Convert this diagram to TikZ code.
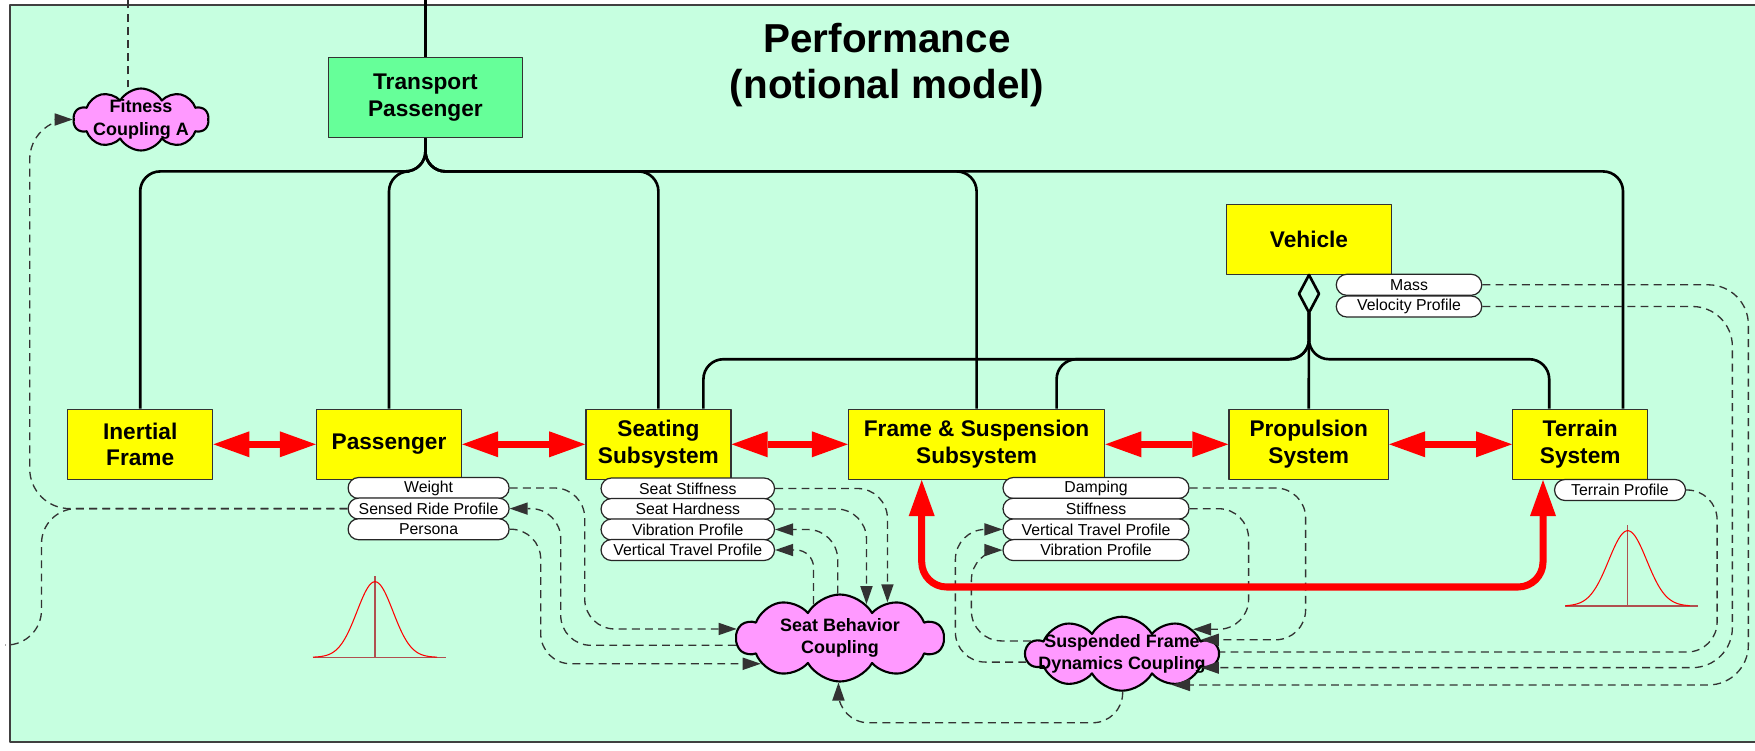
\documentclass[tikz,border=0pt]{standalone}
\usepackage{fontspec}
\setmainfont{Liberation Sans}
\usetikzlibrary{arrows.meta,shapes.misc,shapes.symbols,calc}
\definecolor{mint}{RGB}{198,255,224}
\definecolor{boxyellow}{RGB}{255,255,0}
\definecolor{tpgreen}{RGB}{102,255,153}
\definecolor{cloudpink}{RGB}{255,153,255}
\definecolor{dashgray}{RGB}{51,51,51}
\definecolor{bellbase}{RGB}{176,80,80}

\begin{document}
\begin{tikzpicture}[x=0.2mm,y=-0.2mm,line join=round,
  block/.style={draw=black!80,line width=0.8pt,fill=boxyellow,align=center,
    minimum height=14mm,inner sep=0pt,font=\fontsize{12.9}{15.1}\selectfont\bfseries},
  pill/.style={rounded rectangle,draw=black!85,line width=0.7pt,fill=white,
    minimum height=4.2mm,inner sep=0pt,font=\fontsize{9}{10}\selectfont},
  coupling/.style={cloud,cloud puffs=10,cloud puff arc=120,cloud ignores aspect,
    draw=black,line width=1.2pt,fill=cloudpink,inner sep=0pt},
  cloudtext/.style={align=center,inner sep=0pt,font=\fontsize{10.2}{12.8}\selectfont\bfseries},
  treeline/.style={line width=1.5pt,rounded corners=4mm},
  depline/.style={dashgray,line width=0.75pt,dash pattern=on 4.5pt off 3pt,rounded corners=6mm},
  toarr/.style={-{Triangle[length=3.6mm,width=2.5mm,line width=0pt]}},
  redlink/.style={red,line width=4pt,
    {Triangle[length=7.2mm,width=5.2mm,line width=0pt]}-{Triangle[length=7.2mm,width=5.2mm,line width=0pt]}},
  bell/.style={red,line width=0.6pt},
  bellaxis/.style={bellbase,line width=0.8pt}]
  \useasboundingbox (0,0) rectangle (1755,750);
  \clip (0,0) rectangle (1755,750);
  \draw[black!75,line width=1.2pt,fill=mint] (10.3,5) rectangle (1775,741.7);

  \node[anchor=base,font=\fontsize{23}{26}\selectfont\bfseries] (title) at (887,52.3) {Performance};
  \node[anchor=base,font=\fontsize{23}{26}\selectfont\bfseries] (subtitle) at (887,98.3) {(notional model)};

  % blocks
  \node[block,fill=tpgreen,minimum width=38.8mm,minimum height=16mm] (tp) at (425.4,97.7) {Transport\\Passenger};
  \node[block,minimum width=33.1mm] (vehicle) at (1309,239.2) {Vehicle};
  \node[block,minimum width=29mm] (inertial) at (140.2,444.3) {Inertial\\Frame};
  \node[block,minimum width=29mm] (passenger) at (389,444.3) {Passenger};
  \node[block,minimum width=29mm] (seating) at (658.4,444.3) {Seating\\Subsystem};
  \node[block,minimum width=51.2mm] (frame) at (976.6,444.3) {Frame \& Suspension\\Subsystem};
  \node[block,minimum width=31.9mm] (propulsion) at (1308.7,444.3) {Propulsion\\System};
  \node[block,minimum width=27mm] (terrain) at (1580.2,444.3) {Terrain\\System};

  % couplings
  \node[coupling,minimum width=27mm,minimum height=12.4mm] (fitness) at (141,119.5) {};
  \node[cloudtext] (fitnessT) at (fitness) {Fitness\\Coupling A};
  \node[coupling,minimum width=41.4mm,minimum height=17.4mm] (seatcpl) at (840,638) {};
  \node[cloudtext] (seatcplT) at (seatcpl) {Seat Behavior\\Coupling};
  \node[coupling,minimum width=38.4mm,minimum height=14.8mm] (suspcpl) at (1122,653.7) {};
  \node[cloudtext] (suspcplT) at (suspcpl) {Suspended Frame\\Dynamics Coupling};

  % value properties
  \foreach \n/\t [count=\i from 0] in {pw/Weight,psr/Sensed Ride Profile,pp/Persona}
    \node[pill,minimum width=32.2mm] (\n) at (428.6,488+20.6*\i) {\t};
  \foreach \n/\t [count=\i from 0] in {ss/Seat Stiffness,sh/Seat Hardness,svib/Vibration Profile,svt/Vertical Travel Profile}
    \node[pill,minimum width=34.7mm] (\n) at (687.8,488.5+20.5*\i) {\t};
  \foreach \n/\t [count=\i from 0] in {fd/Damping,fs/Stiffness,fvt/Vertical Travel Profile,fvib/Vibration Profile}
    \node[pill,minimum width=37.2mm] (\n) at (1096,488+20.7*\i) {\t};
  \node[pill,minimum width=26.2mm] (tprof) at (1620,490) {Terrain Profile};
  \node[pill,minimum width=29.1mm] (vmass) at (1409,284.8) {Mass};
  \node[pill,minimum width=29.1mm] (vvel) at (1409,306.5) {Velocity Profile};

  % composition from Transport Passenger
  \coordinate (tpTop) at (425.4,0);
  \draw[line width=1.5pt] (tp.north) -- (tpTop);
  \foreach \t in {inertial,passenger,seating,frame}
    \draw[treeline] (tp.south) -- ++(0,33) -| (\t.north);
  \draw[treeline] (tp.south) -- ++(0,33) -| ($(terrain.north east)+(-25.4,0)$);

  % aggregation from Vehicle
  \draw[line width=1.5pt,fill=mint] (vehicle.south) -- ++(10,18.85) -- ++(-10,18.85)
    -- ++(-10,-18.85) -- cycle;
  \coordinate (agg) at ($(vehicle.south)+(0,37.7)$);
  \draw[line width=1.5pt] (agg) -- (propulsion.north);
  \draw[treeline] (agg) -- ++(0,46.6) -| ($(seating.north)+(45,0)$);
  \draw[treeline] (agg) -- ++(0,46.6) -| ($(frame.north)+(80,0)$);
  \draw[treeline] (agg) -- ++(0,46.6) -| ($(terrain.north)+(-31,0)$);

  % bindings
  \draw[depline,toarr] (pw.east) -- ++(75,0) |- (seatcpl.175);
  \draw[depline,toarr] (seatcpl.184) -| ($(psr.east)+(51,0)$) -- (psr.east);
  \draw[depline,toarr] (pp.east) -- ++(31,0) |- (seatcpl.198);
  \draw[depline,toarr] (ss.east) -| (seatcpl.37);
  \draw[depline,toarr] (sh.east) -| (seatcpl.52);
  \draw[depline,toarr] (seatcpl.93) |- (svib.east);
  \draw[depline,toarr,rounded corners=3.5mm] (seatcpl.128) |- (svt.east);
  \draw[depline,toarr] (fd.east) -- ++(116,0) |- (suspcpl.10);
  \draw[depline,toarr] (fs.east) -- ++(59,0) |- (suspcpl.19);
  \draw[depline,toarr] (suspcpl.185) -| ($(fvt.west)+(-47,0)$) -- (fvt.west);
  \draw[depline,toarr] (suspcpl.172) -| ($(fvib.west)+(-31,0)$) -- (fvib.west);
  \draw[depline,toarr] (suspcpl.271) -- ++(0,31) -| (seatcpl.268);
  \draw[depline,toarr,rounded corners=8mm] (vmass.east) -- ++(266,0) |- (suspcpl.328);
  \draw[depline,toarr,rounded corners=8mm] (vvel.east) -- ++(250,0) |- (suspcpl.350);
  \draw[depline] (tprof.east) -- ++(31,0) |- (suspcpl.1);
  \draw[depline,toarr] (psr.west) [rounded corners=8mm] -| ($(fitness.west)+(-43,0)$)
    [rounded corners=3.6mm] -- (fitness.west);
  \coordinate (exitL) at (5,645);
  \draw[depline,rounded corners=7mm] (psr.west) -| ($(exitL)+(36.5,0)$) -- (exitL);
  \coordinate (fitTop) at (128,0);
  \draw[depline] (fitness.north -| fitTop) -- (fitTop);

  % interfaces
  \foreach \a/\b in {inertial/passenger,passenger/seating,seating/frame,frame/propulsion,propulsion/terrain}
    \draw[redlink] (\a.east) -- (\b.west);
  \draw[redlink,rounded corners=5mm] ($(frame.south west)+(73.8,0)$) -- ++(0,107)
    -| ($(terrain.south west)+(31,0)$);

  % distributions
  \draw[bellaxis] (312.7,657.3) -- (445.8,657.3) (375,657.3) -- (375,576);
  \draw[bell] plot[domain=-62:62,samples=80] ({375+\x},{657.3-75.6*exp(-(\x*\x)/648)});
  \draw[bellaxis] (1565,606) -- (1698.3,606) (1627.7,606) -- (1627.7,525);
  \draw[bell] plot[domain=-62:62,samples=80] ({1627.7+\x},{606-75.3*exp(-(\x*\x)/722)});
\end{tikzpicture}
\end{document}
